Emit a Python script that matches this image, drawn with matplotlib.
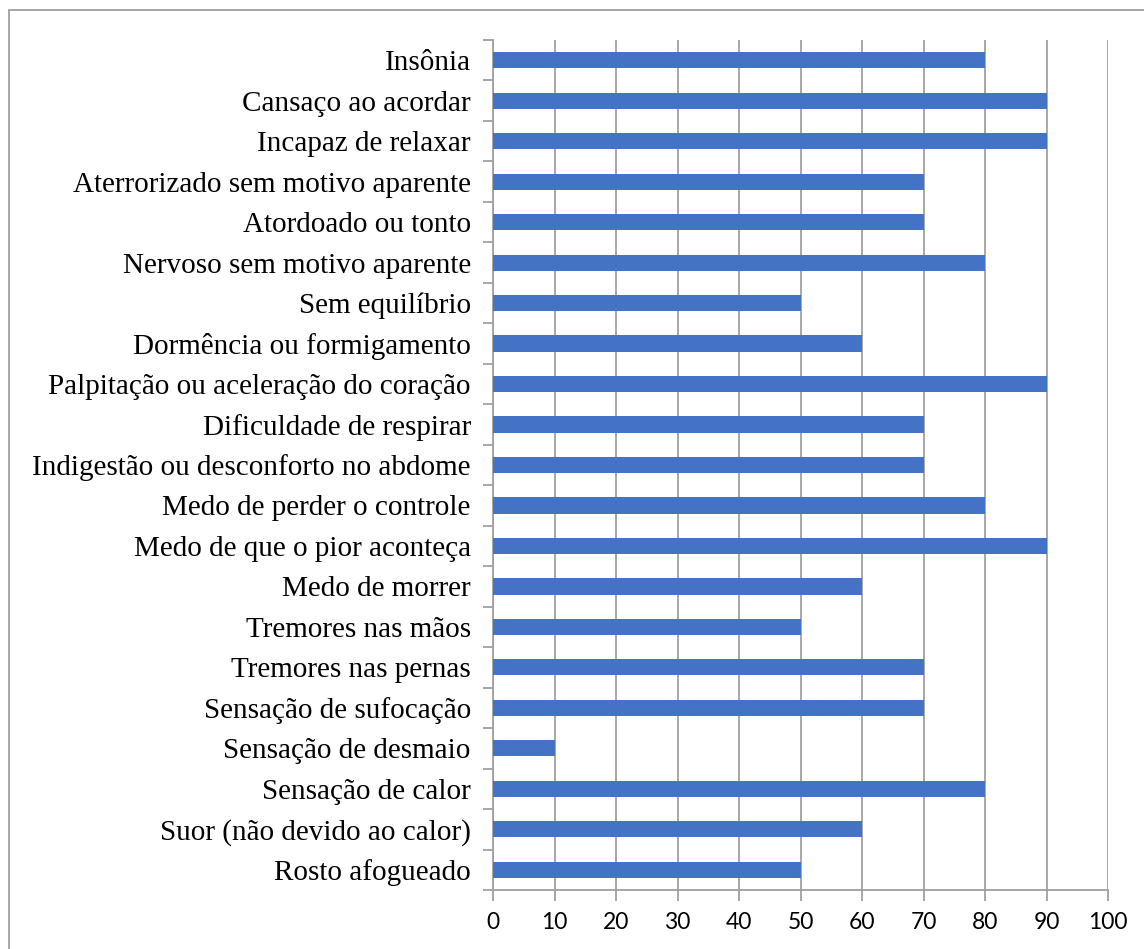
import matplotlib
matplotlib.use("Agg")
import matplotlib.pyplot as plt
from matplotlib.patches import Rectangle

# symptoms, top to bottom as shown in the chart
sintomas = [
    "Insônia",
    "Cansaço ao acordar",
    "Incapaz de relaxar",
    "Aterrorizado sem motivo aparente",
    "Atordoado ou tonto",
    "Nervoso sem motivo aparente",
    "Sem equilíbrio",
    "Dormência ou formigamento",
    "Palpitação ou aceleração do coração",
    "Dificuldade de respirar",
    "Indigestão ou desconforto no abdome",
    "Medo de perder o controle",
    "Medo de que o pior aconteça",
    "Medo de morrer",
    "Tremores nas mãos",
    "Tremores nas pernas",
    "Sensação de sufocação",
    "Sensação de desmaio",
    "Sensação de calor",
    "Suor (não devido ao calor)",
    "Rosto afogueado",
]
valores = [80, 90, 90, 70, 70, 80, 50, 60, 90, 70, 70, 80, 90, 60, 50, 70, 70, 10, 80, 60, 50]
xticks = [0, 10, 20, 30, 40, 50, 60, 70, 80, 90, 100]

W, H = 1144, 949
fig = plt.figure(figsize=(W / 100, H / 100), dpi=100)
ax = fig.add_axes([493 / W, 1 - 890 / H, (1108 - 493) / W, (890 - 40) / H])

# outer frame like the Excel chart area
fig.patches.append(Rectangle((9 / W, -0.01), 1.0, 1 - 10 / H + 0.01,
                             transform=fig.transFigure, fill=False,
                             edgecolor="#a0a0a0", linewidth=1.3))

n = len(sintomas)
pos = list(range(n))[::-1]
ax.barh(pos, valores, height=0.4, color="#4472C4", zorder=3)

ax.set_xlim(0, 100)
ax.set_ylim(-0.5, n - 0.5)
ax.set_xticks(xticks)
ax.set_xticklabels([str(t) for t in xticks], fontfamily="Lato", fontsize=16.5)
ax.set_yticks(pos)
ax.set_yticklabels(sintomas, fontfamily="Liberation Serif", fontsize=21)
ax.tick_params(axis="y", length=0, pad=16)
ax.tick_params(axis="x", length=8, color="#a0a0a0", width=1.3, pad=8)

# category separator ticks on the y axis
ax.set_yticks([p + 0.5 for p in range(-1, n)], minor=True)
ax.tick_params(axis="y", which="minor", length=7, color="#a0a0a0", width=1.3)

ax.grid(axis="x", color="#a0a0a0", linewidth=1.3, zorder=0)
for s in ["top", "right"]:
    ax.spines[s].set_visible(False)
for s in ["left", "bottom"]:
    ax.spines[s].set_color("#a0a0a0")
    ax.spines[s].set_linewidth(1.3)

fig.savefig("out.png", dpi=100)
